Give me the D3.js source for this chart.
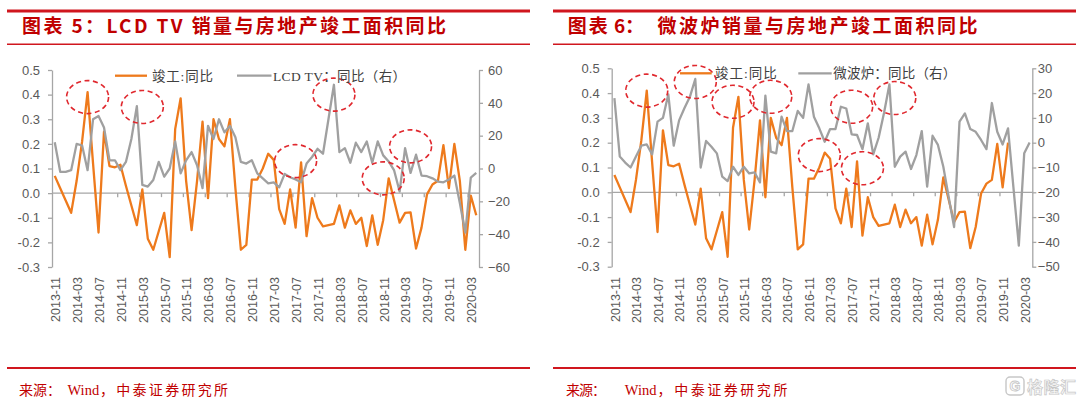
<!DOCTYPE html>
<html>
<head>
<meta charset="utf-8">
<script src="https://cdn.jsdelivr.net/npm/d3@7"></script>
<style>
	body { margin: 0; background: #fff; }
	svg { display: block; }
</style>
</head>
<body>
<svg id="chart" width="1080" height="399"></svg>
<script>
// monthly categories, 2013-11 .. 2020-04
var months = d3.utcMonth.range(new Date(Date.UTC(2013, 10, 1)), new Date(Date.UTC(2020, 4, 1))).map(d3.utcFormat("%Y-%m"));

var xTickLabels = ["2013-11", "2014-03", "2014-07", "2014-11", "2015-03", "2015-07", "2015-11", "2016-03", "2016-07", "2016-11",
	"2017-03", "2017-07", "2017-11", "2018-03", "2018-07", "2018-11", "2019-03", "2019-07", "2019-11", "2020-03"];

// 竣工:同比 (left axis)
var completionYoY = [0.07, 0.02, -0.03, -0.08, 0.05, 0.21, 0.41, 0.12, -0.16, 0.25,
	0.11, 0.105, 0.115, 0.03, -0.05, -0.13, 0.015, -0.185, -0.23, -0.155,
	-0.08, -0.26, 0.26, 0.385, 0.05, -0.15, 0.05, 0.29, -0.02, 0.30,
	0.22, 0.19, 0.30, 0.02, -0.23, -0.21, 0.055, 0.055, 0.10, 0.16,
	0.135, -0.065, -0.125, 0.015, -0.14, 0.125, -0.175, -0.02, -0.10, -0.135,
	-0.13, -0.125, -0.05, -0.14, -0.07, -0.125, -0.10, -0.215, -0.09, -0.21,
	-0.11, 0.06, -0.03, -0.12, -0.08, -0.078, -0.225, -0.14, -0.005, 0.035,
	0.05, 0.195, 0.02, 0.20, 0.05, -0.23, -0.01, -0.09];

// LCD TV：同比（右）
var lcdTvYoY = [16, -2, -2, -1, 15, 14, -1, 30, 32, 25,
	5, 5, -1, 4, 18, 38, -10, -11, -7, 4,
	-5, 0, 16.5, -3, 5, 10, 2, -12, 26, 18,
	30, 22, 26, 19, 4, 3, 5, -3, -6, -9,
	-8.5, -11.5, -3.3, -5.3, -6.7, -8.4, 3, 7, 12, 9,
	30, 51, 10, 12.4, 3.5, 15.7, 10, 16.5, 3.5, 16.5,
	8, 4.3, -1.2, -14, 12.4, -2.7, 8.4, -4.3, -4.7, -6,
	-8, -8.4, -6.7, -4.3, -21, -39, -5.5, -2.7];

// 微波炉：同比（右）
var microwaveYoY = [18, -5.6, -8, -10, -5.6, -1.2, -0.7, -4.7, 8.5, 10,
	19.5, -1.2, 9, 14, 18.5, 25.7, -10, 0.7, -1.6, -4.3,
	-13.7, -15.5, -9.7, -13, -9.7, -12.4, -12, -16, 19, -3.6,
	-4.3, 10.5, 4.7, 4.7, 12.8, 10, 23.5, 10.5, 5.8, 0.4,
	5.5, 5.5, 14.5, 13.8, 3.4, 3.1, -2.6, 7.8, -4.7, 2,
	12, 23.5, -9.7, -5.6, -3.6, -10.6, -5, 4.7, -17.7, 2.8,
	-0.9, -9.7, -22, -34, 8.5, 11.8, 5.5, 4.4, 1.1, -2.6,
	16, 4.4, -0.7, 5.8, -18, -41.5, -4.3, 0.1];

// the microwave chart shows completion data only up to this month
var microwaveCompletionEnd = "2019-12";

var leftTicks = [-0.3, -0.2, -0.1, 0.0, 0.1, 0.2, 0.3, 0.4, 0.5];
var lcdTicks = [-60, -40, -20, 0, 20, 40, 60];
var microwaveTicks = [-50, -40, -30, -20, -10, 0, 10, 20, 30];

// dashed highlight rings: month + value on the left axis
var lcdRings = [
	{ month: "2014-05", value: 0.39 },
	{ month: "2015-03", value: 0.35 },
	{ month: "2018-02", value: 0.40 },
	{ month: "2017-07", value: 0.13 },
	{ month: "2019-04", value: 0.19 },
	{ month: "2018-11", value: 0.06 }
];
var microwaveRings = [
	{ month: "2014-05", value: 0.41 },
	{ month: "2015-02", value: 0.445 },
	{ month: "2015-09", value: 0.365 },
	{ month: "2016-04", value: 0.385 },
	{ month: "2017-01", value: 0.15 },
	{ month: "2017-07", value: 0.345 },
	{ month: "2017-09", value: 0.097 },
	{ month: "2018-03", value: 0.38 }
];

var RED = "#C00000", RULE = "#D0161E", ORANGE = "#EE7A1C", GRAY = "#A0A0A0", AXIS = "#A6A6A6",
	LABEL = "#595959", RING = "#E0282E";
var SANS = "'Liberation Sans', Arial, sans-serif";
var SERIF = "'Liberation Serif', 'Noto Sans CJK SC', serif";
var CJK = "'Noto Sans CJK SC', sans-serif";

var svg = d3.select("#chart");

function zip(values) {
	return values.map(function (v, i) { return { month: months[i], value: v }; });
}

function styleAxis(sel) {
	sel.attr("font-family", null).attr("font-size", null);
	sel.select(".domain").attr("stroke", AXIS).attr("stroke-width", 1.3);
	sel.selectAll(".tick line").attr("stroke", AXIS).attr("stroke-width", 1.3);
	sel.selectAll(".tick text").attr("fill", LABEL).attr("font-family", SANS).attr("font-size", 13);
}

function drawPanel(p) {
	var g = svg.append("g");

	// header
	g.append("line").attr("x1", p.ruleX[0]).attr("x2", p.ruleX[1]).attr("y1", 11).attr("y2", 11)
		.attr("stroke", RULE).attr("stroke-width", 3);
	g.append("line").attr("x1", p.ruleX[0]).attr("x2", p.ruleX[1]).attr("y1", 44.3).attr("y2", 44.3)
		.attr("stroke", RULE).attr("stroke-width", 1.5);
	p.title.forEach(function (t) {
		g.append("text").text(t.text)
			.attr("x", t.x).attr("y", 33)
			.attr("textLength", t.len).attr("lengthAdjust", "spacing")
			.attr("fill", RED).attr("font-weight", "bold").attr("font-size", 19).attr("font-family", CJK)
			.style("white-space", "pre");
	});

	// scales
	var x = d3.scalePoint().domain(months).range([p.left, p.right]).padding(0.5);
	var yL = d3.scaleLinear().domain([-0.3, 0.5]).range([p.bottom, p.top]);
	var yR = d3.scaleLinear().domain([p.rightTicks[0], p.rightTicks[p.rightTicks.length - 1]]).range([p.bottom, p.top]);

	// axes
	g.append("g").attr("transform", "translate(" + p.left + ",0)")
		.call(d3.axisLeft(yL).tickValues(leftTicks).tickSize(4).tickSizeOuter(0).tickPadding(8)
			.tickFormat(function (d) { return d.toFixed(1); }))
		.call(styleAxis);
	g.append("g").attr("transform", "translate(" + p.right + ",0)")
		.call(d3.axisRight(yR).tickValues(p.rightTicks).tickSize(4).tickSizeOuter(0).tickPadding(p.rightPad))
		.call(styleAxis);

	// category axis on the zero line, ticks between categories
	var step = x.step();
	var xAxis = g.append("g").attr("transform", "translate(0," + yL(0) + ")");
	xAxis.append("line").attr("x1", p.left).attr("x2", p.right)
		.attr("stroke", AXIS).attr("stroke-width", 1.3);
	xAxis.selectAll("line.tk").data(xTickLabels.slice(1)).enter().append("line").attr("class", "tk")
		.attr("x1", function (d) { return x(d) - step / 2; })
		.attr("x2", function (d) { return x(d) - step / 2; })
		.attr("y1", 0).attr("y2", 4)
		.attr("stroke", AXIS).attr("stroke-width", 1.3);

	g.selectAll("text.xl").data(xTickLabels).enter().append("text").attr("class", "xl")
		.text(function (d) { return d; })
		.attr("transform", function (d) { return "translate(" + (x(d) + 1) + ",277) rotate(-90)"; })
		.attr("dy", "0.35em")
		.attr("text-anchor", "end")
		.attr("fill", LABEL).attr("font-family", SANS).attr("font-size", 12.5);

	// series
	var lineL = d3.line().x(function (d) { return x(d.month); }).y(function (d) { return yL(d.value); });
	var lineR = d3.line().x(function (d) { return x(d.month); }).y(function (d) { return yR(d.value); });

	g.append("path").datum(p.orange).attr("d", lineL)
		.attr("fill", "none").attr("stroke", ORANGE).attr("stroke-width", 2.3).attr("stroke-linejoin", "round");
	g.append("path").datum(p.gray).attr("d", lineR)
		.attr("fill", "none").attr("stroke", GRAY).attr("stroke-width", 2.3).attr("stroke-linejoin", "round");

	// highlight rings
	g.selectAll("ellipse").data(p.rings).enter().append("ellipse")
		.attr("cx", function (d) { return x(d.month); })
		.attr("cy", function (d) { return yL(d.value); })
		.attr("rx", 21).attr("ry", 16.5)
		.attr("fill", "none").attr("stroke", RING).attr("stroke-width", 1.6).attr("stroke-dasharray", "5,3.5");

	// legend
	var lg = p.legend;
	g.append("line").attr("x1", lg.orangeLine[0]).attr("x2", lg.orangeLine[1]).attr("y1", lg.y).attr("y2", lg.y)
		.attr("stroke", ORANGE).attr("stroke-width", 2.3);
	g.append("text").text("竣工:同比").attr("x", lg.orangeText[0]).attr("y", lg.y).attr("dy", "0.38em")
		.attr("textLength", lg.orangeText[1]).attr("lengthAdjust", "spacing")
		.attr("fill", "#404040").attr("font-family", SERIF).attr("font-size", 13.5);
	g.append("line").attr("x1", lg.grayLine[0]).attr("x2", lg.grayLine[1]).attr("y1", lg.y).attr("y2", lg.y)
		.attr("stroke", GRAY).attr("stroke-width", 2.3);
	g.append("text").text(lg.grayName).attr("x", lg.grayText[0]).attr("y", lg.y).attr("dy", "0.38em")
		.attr("textLength", lg.grayText[1]).attr("lengthAdjust", "spacing")
		.attr("fill", "#404040").attr("font-family", SERIF).attr("font-size", 13.5);

	// footer
	g.append("line").attr("x1", p.ruleX[0]).attr("x2", p.ruleX[1]).attr("y1", 368).attr("y2", 368)
		.attr("stroke", RULE).attr("stroke-width", 1.8);
	p.source.forEach(function (s) {
		var t = g.append("text").text(s.text).attr("x", s.x).attr("y", 395)
			.attr("fill", RED).attr("font-family", SERIF).attr("font-size", s.len ? 14 : 14.5);
		if (s.len) t.attr("textLength", s.len).attr("lengthAdjust", "spacing");
	});
}

drawPanel({
	ruleX: [7, 530],
	title: [{ text: "图表 5：LCD TV 销量与房地产竣工面积同比", x: 22, len: 424 }],
	left: 52, right: 479, top: 70, bottom: 267,
	rightTicks: lcdTicks, rightPad: 5,
	orange: zip(completionYoY),
	gray: zip(lcdTvYoY),
	rings: lcdRings,
	legend: { y: 75.7, orangeLine: [115, 147], orangeText: [152, 61], grayLine: [237, 271.5], grayName: "LCD TV：同比（右）", grayText: [273, 133] },
	source: [
		{ text: "来源：", x: 19, len: 42 },
		{ text: "Wind", x: 67.5 },
		{ text: "，中泰证券研究所", x: 100, len: 128 }
	]
});

drawPanel({
	ruleX: [553, 1076],
	title: [
		{ text: "图表", x: 567.7, len: 40 },
		{ text: "6：", x: 614, len: 30 },
		{ text: "微波炉销量与房地产竣工面积同比", x: 657.6, len: 320 }
	],
	left: 611.7, right: 1032.3, top: 68.3, bottom: 266.7,
	rightTicks: microwaveTicks, rightPad: 1.5,
	orange: zip(completionYoY.slice(0, months.indexOf(microwaveCompletionEnd) + 1)),
	gray: zip(microwaveYoY),
	rings: microwaveRings,
	legend: { y: 73.3, orangeLine: [680, 711.7], orangeText: [715, 61.7], grayLine: [798.3, 831.7], grayName: "微波炉：同比（右）", grayText: [833.3, 123] },
	source: [
		{ text: "来源：", x: 566, len: 40 },
		{ text: "Wind", x: 624.8 },
		{ text: "，中泰证券研究所", x: 657.6, len: 129.8 }
	]
});

// watermark
var wm = svg.append("g").attr("opacity", 0.55);
wm.append("rect").attr("x", 1006).attr("y", 377).attr("width", 18).attr("height", 18).attr("rx", 4)
	.attr("fill", "none").attr("stroke", "#9a9a9a").attr("stroke-width", 1.4);
wm.append("text").text("G").attr("x", 1015).attr("y", 391).attr("text-anchor", "middle")
	.attr("fill", "none").attr("stroke", "#9a9a9a").attr("stroke-width", 0.9)
	.attr("font-family", SANS).attr("font-weight", "bold").attr("font-size", 14);
wm.append("text").text("格隆汇").attr("x", 1027).attr("y", 393)
	.attr("textLength", 49).attr("lengthAdjust", "spacing")
	.attr("fill", "#f2f2f2").attr("stroke", "#9a9a9a").attr("stroke-width", 0.7)
	.attr("font-family", CJK).attr("font-weight", "bold").attr("font-size", 16);
</script>
</body>
</html>
